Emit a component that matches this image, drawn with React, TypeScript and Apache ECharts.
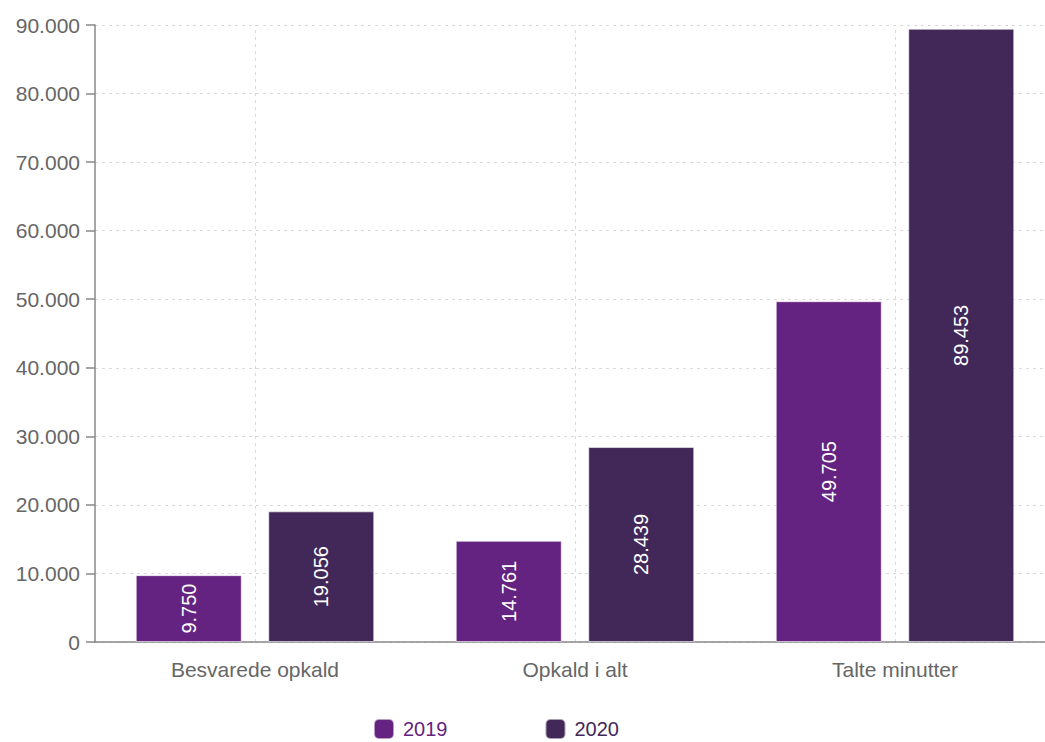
import React, { useEffect, useRef } from "react";
import * as echarts from "echarts";

const categories = ["Besvarede opkald", "Opkald i alt", "Talte minutter"];
const values2019 = [9750, 14761, 49705];
const values2020 = [19056, 28439, 89453];
const seriesNames = ["2019", "2020"];
const seriesColors = ["#652381", "#422858"];
const yTicks = [0, 10000, 20000, 30000, 40000, 50000, 60000, 70000, 80000, 90000];

const FONT = "'Liberation Sans', Arial, sans-serif";
const fmt = (v: number) => String(Math.round(v)).replace(/\B(?=(\d{3})+(?!\d))/g, ".");

export default function App() {
  const ref = useRef<HTMLDivElement>(null);
  useEffect(() => {
    document.body.style.margin = "0";
    document.body.style.overflow = "hidden";
    const chart = echarts.init(ref.current!, null, { renderer: "svg" });
    const labelCfg = {
      show: true,
      position: "inside",
      rotate: 90,
      color: "#ffffff",
      fontSize: 20,
      fontFamily: FONT,
      formatter: (p: any) => fmt(p.value),
    };
    chart.setOption({
      animation: false,
      textStyle: { fontFamily: FONT },
      grid: { left: 95, right: 5, top: 25, bottom: 100, containLabel: false },
      legend: {
        data: seriesNames.map((n, i) => ({ name: n, textStyle: { color: seriesColors[i] } })),
        left: 368,
        top: 713,
        icon: "roundRect",
        itemWidth: 20,
        itemHeight: 20,
        itemGap: 97,
        textStyle: { fontSize: 20, fontFamily: FONT, padding: [0, 0, 0, 4], lineHeight: 20 },
      },
      xAxis: {
        type: "category",
        data: categories,
        axisLine: { lineStyle: { color: "#888888", width: 1.5 } },
        axisTick: { alignWithLabel: true, length: 9, lineStyle: { color: "#888888", width: 1.5 } },
        axisLabel: { color: "#666666", fontSize: 21, fontFamily: FONT, margin: 17 },
        splitLine: { show: false },
      },
      yAxis: {
        type: "value",
        min: yTicks[0],
        max: yTicks[yTicks.length - 1],
        interval: yTicks[1] - yTicks[0],
        axisLine: { show: true, lineStyle: { color: "#888888", width: 1.5 } },
        axisTick: { show: true, length: 9, lineStyle: { color: "#888888", width: 1.5 } },
        axisLabel: { color: "#666666", fontSize: 21, fontFamily: FONT, margin: 15, formatter: (v: number) => fmt(v) },
        splitLine: { show: true, lineStyle: { color: "#d9d9d9", type: [3, 4], width: 1 } },
      },
      series: [
        {
          name: seriesNames[0],
          type: "bar",
          data: values2019,
          barWidth: 106,
          barGap: "25%",
          itemStyle: { color: seriesColors[0], borderColor: "rgba(255,255,255,0.55)", borderWidth: 1 },
          label: labelCfg,
        },
        {
          name: seriesNames[1],
          type: "bar",
          data: values2020,
          barWidth: 106,
          barGap: "25%",
          itemStyle: { color: seriesColors[1], borderColor: "rgba(255,255,255,0.55)", borderWidth: 1 },
          label: labelCfg,
        },
        {
          name: "grid-x",
          type: "line",
          data: [],
          silent: true,
          z: 0,
          markLine: {
            silent: true,
            symbol: "none",
            z: 0,
            label: { show: false },
            lineStyle: { color: "#d9d9d9", type: [3, 4], width: 1 },
            data: categories.map((c) => ({ xAxis: c })),
          },
        },
      ],
    });
    return () => chart.dispose();
  }, []);
  return (
    <div style={{ position: "fixed", left: 0, top: 0, width: 1045, height: 742, overflow: "hidden", background: "#fff" }}>
      <div ref={ref} style={{ width: 1060, height: 742 }} />
    </div>
  );
}
